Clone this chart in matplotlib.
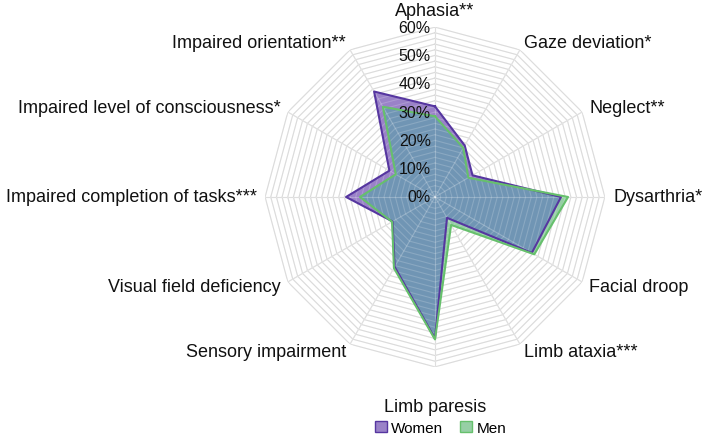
import numpy as np
import matplotlib
matplotlib.use('Agg')
import matplotlib.pyplot as plt
from matplotlib.patches import Patch

plt.rcParams['font.family'] = ['Liberation Sans', 'DejaVu Sans']

categories = ['Aphasia**', 'Gaze deviation*', 'Neglect**', 'Dysarthria*', 'Facial droop',
              'Limb ataxia***', 'Limb paresis', 'Sensory impairment', 'Visual field deficiency',
              'Impaired completion of tasks***', 'Impaired level of consciousness*',
              'Impaired orientation**']
women = [32, 21, 15.3, 44.5, 39.5, 8.5, 50, 28.5, 17.3, 31.4, 18.6, 43]
men = [28.5, 20, 13.6, 47, 40.5, 11.4, 50.3, 29, 17.5, 26.5, 16, 36.8]
ticks = [0, 10, 20, 30, 40, 50, 60]
tick_labels = ['0%', '10%', '20%', '30%', '40%', '50%', '60%']

n = len(categories)
ang = np.linspace(0, 2 * np.pi, n, endpoint=False)
ang_c = np.append(ang, ang[0])
w_c = np.append(women, women[0])
m_c = np.append(men, men[0])

fig = plt.figure(figsize=(7.05, 4.39), dpi=100)
ax = fig.add_axes([0.376, 0.162, 0.482, 0.774], projection='polar')
ax.set_theta_zero_location('N')
ax.set_theta_direction(-1)
ax.set_ylim(0, 60)
ax.grid(False)
ax.spines['polar'].set_visible(False)
ax.set_xticks([])
ax.set_yticks([])

# polygon grid, every 2%
levels = np.arange(2, 62, 2)
for lv in levels:
    ax.plot(ang_c, [lv] * (n + 1), color='#d4d4d4', lw=0.8, zorder=1)
for a in ang:
    ax.plot([a, a], [0, 60], color='#d4d4d4', lw=0.8, zorder=1)

# fills
wf = ax.fill(ang_c, w_c, color='#9a82c8', lw=0, zorder=2)[0]
ax.fill(ang_c, m_c, color='#96cfa5', lw=0, zorder=3)
ov = ax.fill(ang_c, m_c, color='#7095b4', lw=0, zorder=4)[0]
ov.set_clip_path(wf)

# faint grid over the fills
for lv in levels:
    ax.plot(ang_c, [lv] * (n + 1), color='white', lw=0.8, alpha=0.18, zorder=5)
for a in ang:
    ax.plot([a, a], [0, 60], color='white', lw=0.8, alpha=0.25, zorder=5)

ax.plot(ang_c, w_c, color='#5636a0', lw=1.5, zorder=6)
ax.plot(ang_c, m_c, color='#66c06c', lw=1.5, zorder=7)

for t, lab in zip(ticks, tick_labels):
    ax.annotate(lab, xy=(0, t), xytext=(-3, 0), textcoords='offset points',
                ha='right', va='center', fontsize=11.5, color='#111111', zorder=8)

for a, lab in zip(ang, categories):
    s = np.sin(a)
    c = np.cos(a)
    r = 63
    if abs(s) < 0.01:
        ha = 'center'
        if c > 0:
            va = 'bottom'
        else:
            va = 'top'
            r = 71
    else:
        ha = 'left' if s > 0 else 'right'
        va = 'center'
    ax.text(a, r, lab, ha=ha, va=va, fontsize=13, color='#111111')

handles = [Patch(facecolor='#9a82c8', edgecolor='#5636a0', label='Women'),
           Patch(facecolor='#96cfa5', edgecolor='#66c06c', label='Men')]
fig.legend(handles=handles, loc='lower center', bbox_to_anchor=(0.625, 0.0), ncol=2,
           frameon=False, fontsize=11, handlelength=0.75, handleheight=0.75,
           handletextpad=0.3, columnspacing=1.1, borderpad=0.1, borderaxespad=0.1)

fig.savefig('out.png', dpi=100)
